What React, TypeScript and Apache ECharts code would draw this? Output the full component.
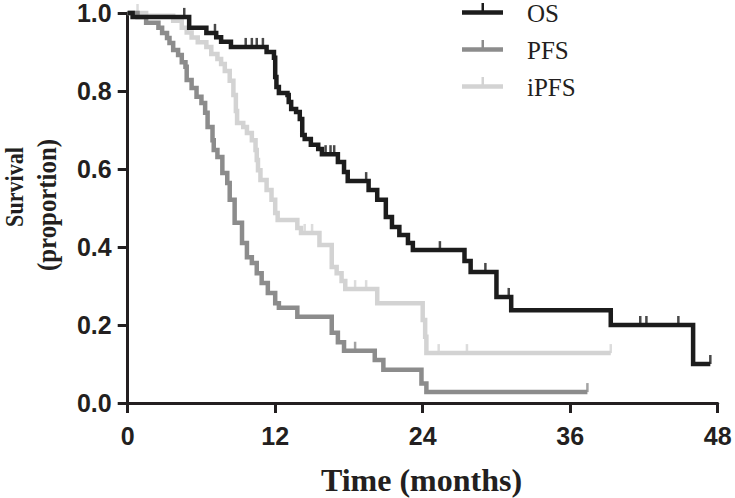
import React, { useEffect, useRef } from "react";
import * as echarts from "echarts";

// ---- data ----
const seriesNames = ["OS", "PFS", "iPFS"];
const seriesColors = ["#1c1c1c", "#8c8c8c", "#d3d3d3"];
const xTicks = [0, 12, 24, 36, 48];
const yTicks = [0, 0.2, 0.4, 0.6, 0.8, 1.0];

// [time (months), survival after step]
const osSteps: [number, number][] = [
  [0, 1.0], [0.4, 0.99], [5.0, 0.962], [6.4, 0.949], [7.2, 0.938], [7.6, 0.926],
  [8.4, 0.913], [11.3, 0.9], [11.9, 0.885], [12.0, 0.836], [12.1, 0.81], [12.3, 0.795],
  [13.0, 0.79], [13.1, 0.772], [13.3, 0.754], [13.7, 0.746], [14.0, 0.728], [14.2, 0.687],
  [14.4, 0.677], [14.9, 0.662], [15.5, 0.651], [15.8, 0.638], [17.1, 0.618], [17.6, 0.592],
  [17.9, 0.569], [19.6, 0.546], [20.3, 0.521], [21.0, 0.477], [21.5, 0.451], [22.1, 0.431],
  [22.8, 0.41], [23.2, 0.392], [27.4, 0.364], [27.9, 0.336], [30.0, 0.272], [31.2, 0.238],
  [39.3, 0.2], [46.0, 0.1], [47.4, 0.1],
];
const pfsSteps: [number, number][] = [
  [0, 1.0], [0.8, 0.99], [1.5, 0.975], [2.5, 0.962], [2.8, 0.949], [3.2, 0.936],
  [3.4, 0.923], [3.7, 0.905], [4.1, 0.892], [4.4, 0.874], [4.7, 0.862], [4.8, 0.828],
  [5.2, 0.808], [5.6, 0.785], [6.0, 0.769], [6.3, 0.744], [6.5, 0.708], [6.9, 0.674],
  [7.0, 0.649], [7.3, 0.631], [7.7, 0.59], [8.1, 0.564], [8.3, 0.521], [8.7, 0.462],
  [9.3, 0.41], [9.7, 0.374], [10.1, 0.359], [10.5, 0.333], [10.9, 0.308], [11.4, 0.282],
  [12.0, 0.256], [12.3, 0.244], [13.8, 0.221], [16.6, 0.18], [17.1, 0.156], [17.6, 0.134],
  [20.1, 0.11], [20.8, 0.085], [23.9, 0.05], [24.3, 0.028], [37.4, 0.028],
];
const ipfsSteps: [number, number][] = [
  [0, 1.0], [1.5, 0.993], [3.7, 0.98], [4.4, 0.962], [4.8, 0.95], [5.2, 0.937],
  [5.7, 0.925], [6.4, 0.913], [6.8, 0.895], [7.3, 0.882], [7.6, 0.869], [7.9, 0.851],
  [8.3, 0.826], [8.6, 0.79], [8.8, 0.749], [8.9, 0.718], [9.4, 0.708], [9.7, 0.692],
  [10.1, 0.674], [10.4, 0.649], [10.5, 0.623], [10.6, 0.597], [10.8, 0.572], [11.3, 0.546],
  [11.7, 0.521], [12.0, 0.487], [12.2, 0.469], [13.8, 0.449], [14.1, 0.436], [15.6, 0.405],
  [16.6, 0.349], [17.0, 0.333], [17.4, 0.313], [17.7, 0.292], [20.3, 0.256], [24.0, 0.213],
  [24.2, 0.17], [24.3, 0.128], [39.3, 0.128],
];

// censored observation times (months)
const osCensor = [4.6, 7.1, 9.6, 10.1, 10.5, 11.0, 16.1, 16.5, 16.8, 19.4, 25.4, 29.1, 31.0, 41.7, 42.2, 44.8, 47.4];
const pfsCensor = [18.5, 37.4];
const ipfsCensor = [0.8, 14.4, 15.0, 18.5, 19.4, 25.3, 27.6, 39.3];

const allSteps = [osSteps, pfsSteps, ipfsSteps];
const allCensor = [osCensor, pfsCensor, ipfsCensor];

function levelAt(steps: [number, number][], t: number): number {
  let s = steps[0][1];
  for (const [ti, si] of steps) {
    if (ti <= t) s = si;
    else break;
  }
  return s;
}

export default function App() {
  const ref = useRef<HTMLDivElement>(null);
  useEffect(() => {
    if (!ref.current) return;
    const chart = echarts.init(ref.current, undefined, { renderer: "svg" });
    const axisColor = "#231f20";
    const lineSeries: any[] = [];
    const censorSeries: any[] = [];
    // draw lightest first so OS is on top
    [2, 1, 0].forEach((i, k) => {
      lineSeries.push({
        name: seriesNames[i],
        type: "line",
        step: "end",
        data: allSteps[i],
        showSymbol: false,
        symbol: "none",
        clip: false,
        z: 2 + k * 2,
        itemStyle: { color: seriesColors[i] },
        lineStyle: { color: seriesColors[i], width: 4.5, join: "miter", cap: "butt" },
      });
      censorSeries.push({
        name: seriesNames[i] + " censored",
        type: "scatter",
        data: allCensor[i].map((t) => [t, levelAt(allSteps[i], t)]),
        symbol: "rect",
        symbolSize: [2.5, 9],
        symbolOffset: [0, -4.5],
        clip: false,
        z: 3 + k * 2,
        itemStyle: { color: seriesColors[i] },
      });
    });

    const legendGraphics: any[] = seriesNames.map((name, i) => {
      const yc = 12.5 + 37 * i;
      return {
        type: "group",
        children: [
          { type: "rect", shape: { x: 462, y: yc - 2.25, width: 41, height: 4.5 }, style: { fill: seriesColors[i] } },
          { type: "rect", shape: { x: 481.5, y: yc - 9.5, width: 2.5, height: 9.5 }, style: { fill: seriesColors[i] } },
          {
            type: "text",
            x: 527,
            y: yc + 0.5,
            style: {
              text: name,
              font: "25px 'Liberation Serif', 'Times New Roman', serif",
              fill: axisColor,
              verticalAlign: "middle",
            },
          },
        ],
      };
    });

    chart.setOption({
      animation: false,
      backgroundColor: "#ffffff",
      grid: { left: 127.7, right: 17.3, top: 13, bottom: 95, containLabel: false },
      xAxis: {
        type: "value",
        min: xTicks[0],
        max: xTicks[xTicks.length - 1],
        interval: 12,
        splitLine: { show: false },
        axisLine: { show: true, onZero: false, lineStyle: { color: axisColor, width: 3 } },
        axisTick: { show: true, length: 10, lineStyle: { color: axisColor, width: 3 } },
        axisLabel: {
          margin: 20,
          fontSize: 25,
          fontWeight: "bold",
          fontFamily: "'Liberation Sans', Arial, sans-serif",
          color: axisColor,
        },
      },
      yAxis: {
        type: "value",
        min: yTicks[0],
        max: yTicks[yTicks.length - 1],
        interval: 0.2,
        splitLine: { show: false },
        axisLine: { show: true, onZero: false, lineStyle: { color: axisColor, width: 3 } },
        axisTick: { show: true, length: 10, lineStyle: { color: axisColor, width: 3 } },
        axisLabel: {
          margin: 16,
          fontSize: 25,
          fontWeight: "bold",
          fontFamily: "'Liberation Sans', Arial, sans-serif",
          color: axisColor,
          formatter: (v: number) => v.toFixed(1),
        },
      },
      graphic: [
        ...legendGraphics,
        {
          type: "text",
          x: 421.5,
          y: 480,
          style: {
            text: "Time (months)",
            font: "bold 32px 'Liberation Serif', 'Times New Roman', serif",
            fill: axisColor,
            align: "center",
            verticalAlign: "middle",
          },
        },
        {
          type: "text",
          x: 14,
          y: 187,
          rotation: Math.PI / 2,
          scaleX: 0.85,
          style: {
            text: "Survival",
            font: "bold 26px 'Liberation Serif', 'Times New Roman', serif",
            fill: axisColor,
            align: "center",
            verticalAlign: "middle",
          },
        },
        {
          type: "text",
          x: 47.5,
          y: 205,
          rotation: Math.PI / 2,
          scaleX: 0.92,
          style: {
            text: "(proportion)",
            font: "bold 27px 'Liberation Serif', 'Times New Roman', serif",
            fill: axisColor,
            align: "center",
            verticalAlign: "middle",
          },
        },
      ],
      series: [...lineSeries, ...censorSeries],
    });
    return () => chart.dispose();
  }, []);
  return (
    <div
      ref={ref}
      style={{ position: "absolute", left: 0, top: 0, width: 735, height: 498, background: "#fff" }}
    />
  );
}
